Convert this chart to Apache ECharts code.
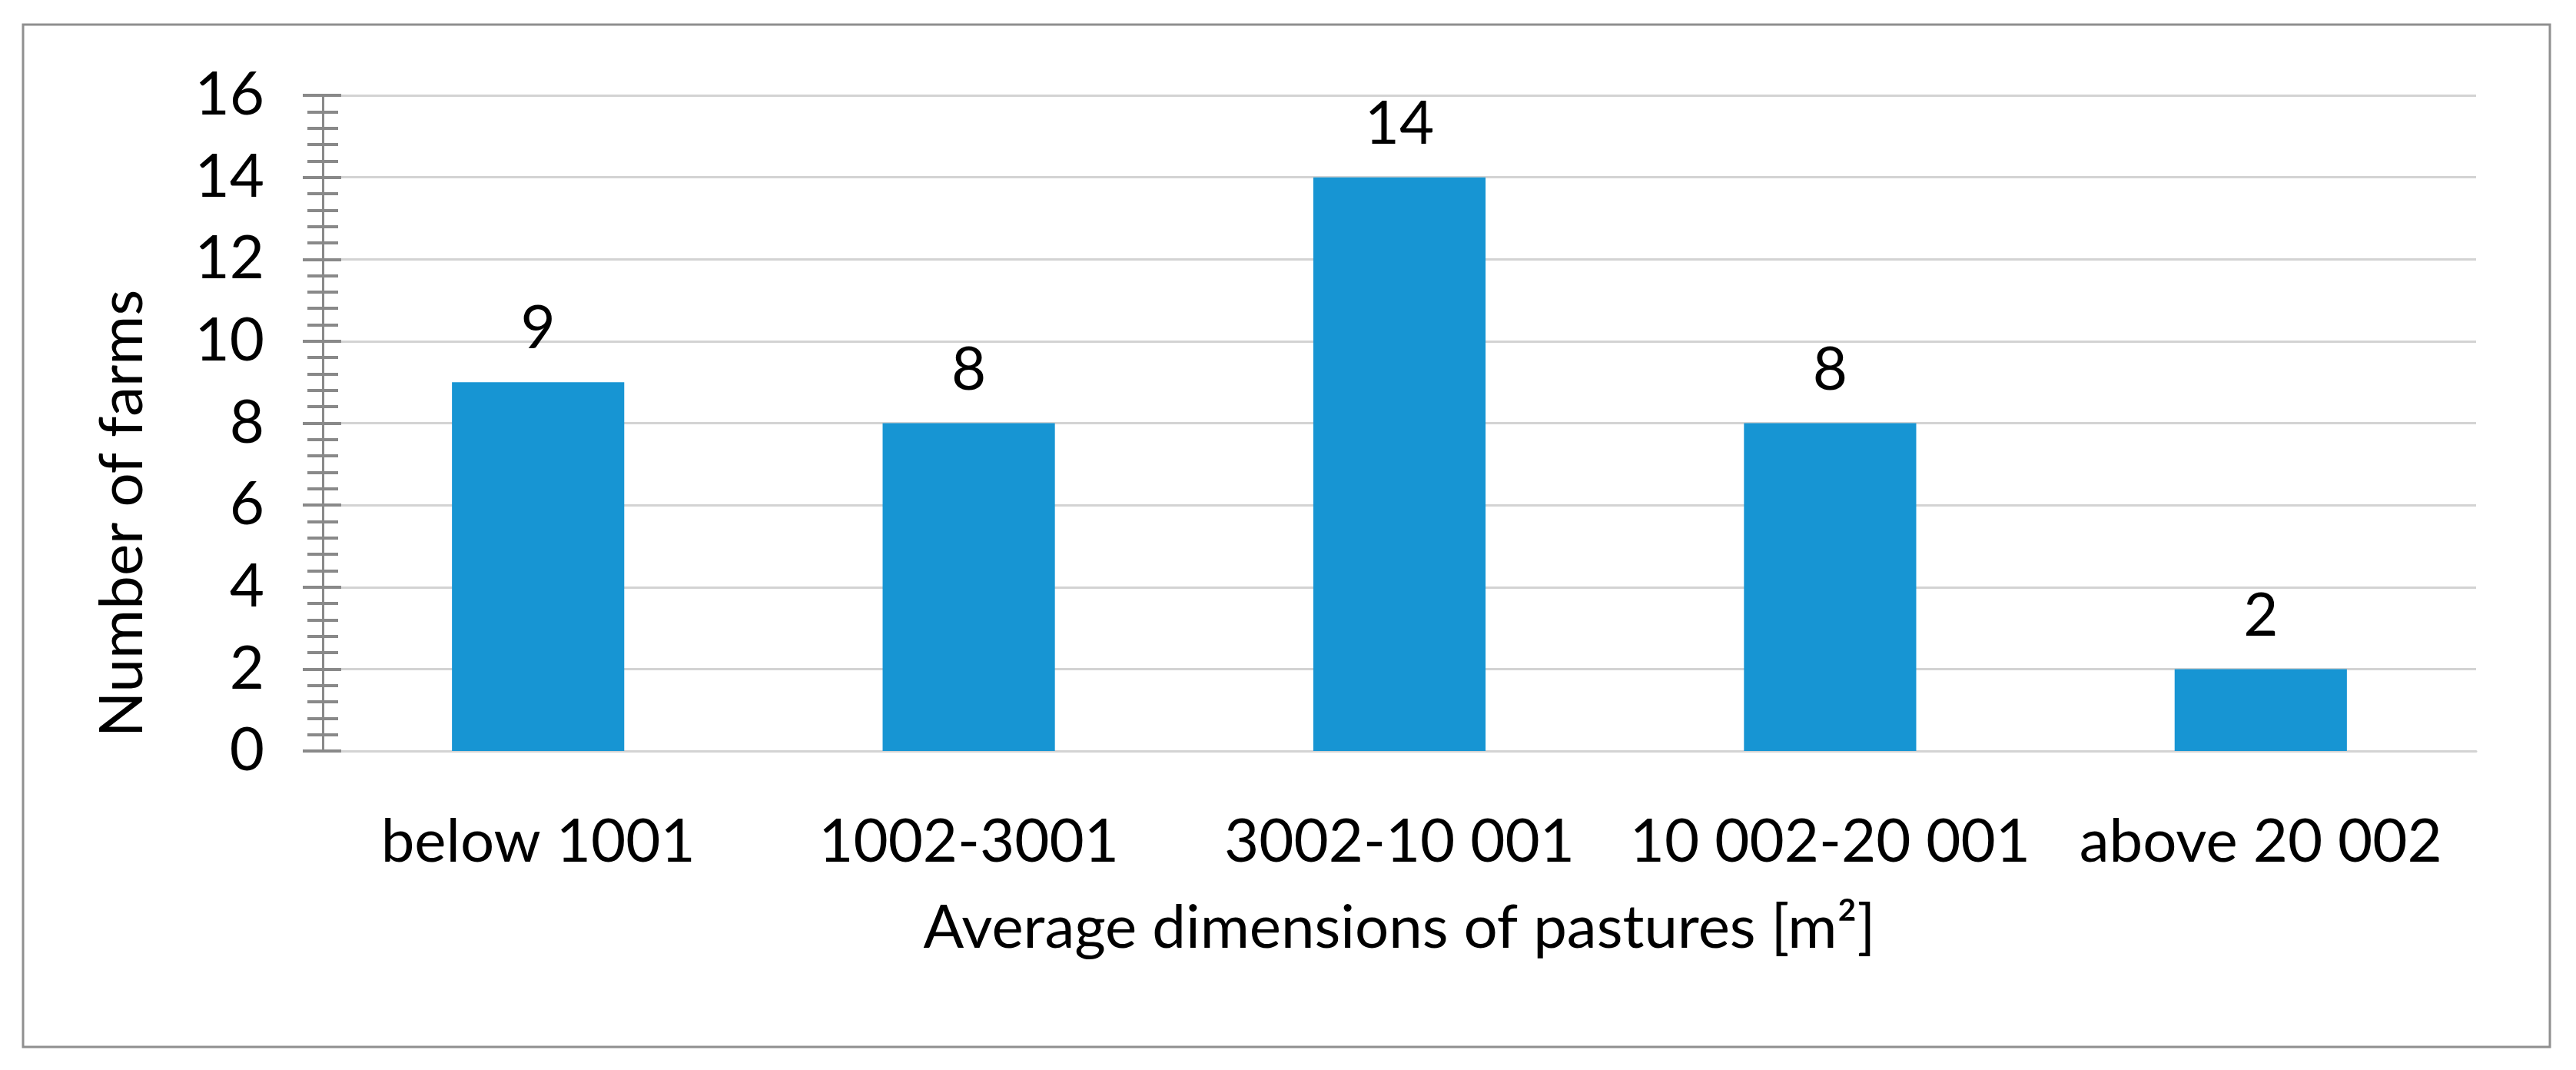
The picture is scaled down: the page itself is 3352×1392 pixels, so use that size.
<!DOCTYPE html>
<html>
<head>
<meta charset="utf-8">
<script src="https://cdn.jsdelivr.net/npm/echarts@6/dist/echarts.min.js"></script>
<style>
  html, body { margin: 0; padding: 0; background: #fff; }
  #chart { width: 3352px; height: 1392px; }
</style>
</head>
<body>
<div id="chart"></div>
<script>
// pasture size classes and farm counts
const categories = ['below 1001', '1002-3001', '3002-10 001', '10 002-20 001', 'above 20 002'];
const farms = [9, 8, 14, 8, 2];

const yMin = 0;
const yMax = 16;
const yStep = 2;

const xTitle = 'Average dimensions of pastures [m\u00b2]';
const yTitle = 'Number of farms';

const FONT = 'Lato';
const FS = 78;
const tickGray = '#898989';
const gridGray = '#d3d3d3';

const chart = echarts.init(document.getElementById('chart'));

const yBase = {
    type: 'value',
    min: yMin,
    max: yMax,
    interval: yStep,
    position: 'left'
};

chart.setOption({
    animation: false,
    backgroundColor: '#fff',
    grid: { left: 420, right: 130, top: 124, bottom: 415, containLabel: false },
    xAxis: {
        type: 'category',
        data: categories,
        axisLine: { show: true, lineStyle: { color: gridGray, width: 3 } },
        axisTick: { show: false },
        axisLabel: { color: '#000', fontFamily: FONT, fontSize: FS, margin: 80, interval: 0, hideOverlap: false },
        name: xTitle,
        nameLocation: 'middle',
        nameGap: 192,
        nameTextStyle: { color: '#000', fontFamily: FONT, fontSize: FS }
    },
    yAxis: [
        Object.assign({}, yBase, {
            axisLine: { show: true, lineStyle: { color: tickGray, width: 3 } },
            axisTick: { show: true, inside: false, length: 26, lineStyle: { color: tickGray, width: 4 } },
            minorTick: { show: true, splitNumber: 5, length: 20, lineStyle: { color: tickGray, width: 4 } },
            axisLabel: { color: '#000', fontFamily: FONT, fontSize: FS, margin: 76 },
            splitLine: { show: true, lineStyle: { color: gridGray, width: 3 } }
        }),
        Object.assign({}, yBase, {
            axisLine: { show: false },
            axisTick: { show: true, inside: true, length: 24, lineStyle: { color: tickGray, width: 4 } },
            minorTick: { show: true, splitNumber: 5, length: 20, lineStyle: { color: tickGray, width: 4 } },
            axisLabel: { show: false },
            splitLine: { show: false }
        })
    ],
    series: [{
        type: 'bar',
        data: farms,
        barWidth: '40%',
        itemStyle: { color: '#1795d3' },
        label: {
            show: true,
            position: 'top',
            distance: 30,
            color: '#000',
            fontFamily: FONT,
            fontSize: FS
        }
    }],
    graphic: [
        {
            type: 'rect',
            shape: { x: 30, y: 32, width: 3288, height: 1330 },
            style: { fill: 'none', stroke: '#8f8f8f', lineWidth: 3 },
            z: -1
        },
        {
            type: 'text',
            x: 160,
            y: 668,
            rotation: Math.PI / 2,
            style: {
                text: yTitle,
                fill: '#000',
                font: FS + 'px ' + FONT,
                align: 'center',
                verticalAlign: 'middle'
            }
        }
    ]
});
</script>
</body>
</html>
